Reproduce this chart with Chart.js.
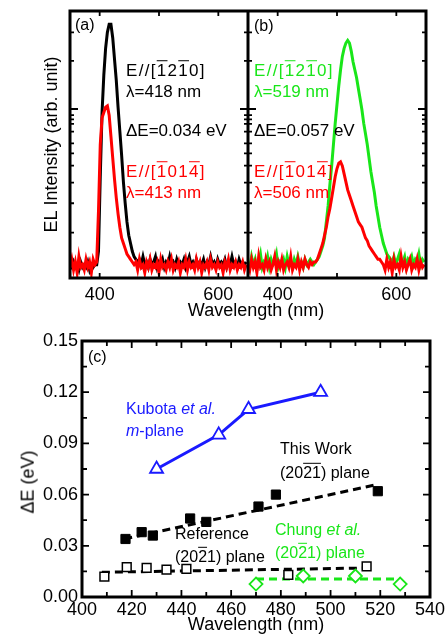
<!DOCTYPE html>
<html lang="en">
<head>
<meta charset="UTF-8">
<title>EL spectra and energy splitting</title>
<script src="https://cdn.jsdelivr.net/npm/chart.js@4.4.1/dist/chart.umd.min.js"></script>
<style>
  body { margin: 0; background: #fff; }
  #wrap { position: relative; width: 448px; height: 641px; font-family: 'Liberation Sans', Arial, sans-serif; color: #000; }
  canvas { position: absolute; }
  .lbl { position: absolute; white-space: nowrap; transform: translateY(-50%); line-height: 1.15; }
  .sp { font-size: 17px; }
  .sp.dir { letter-spacing: 1.3px; }
  .cl { font-size: 16px; }
  .ob { text-decoration: overline; }
  .red { color: #ff0000; }
  .green { color: #19e619; }
  .blue { color: #1a1aff; }
  .axt { position: absolute; white-space: nowrap; font-size: 18px; line-height: 1.15; }
</style>
</head>
<body>
<div id="wrap">
  <canvas id="chartA" width="248" height="310" style="left:0;top:0"></canvas>
  <canvas id="chartB" width="200" height="310" style="left:248px;top:0"></canvas>
  <canvas id="chartC" width="448" height="321" style="left:0;top:320px"></canvas>

  <!-- panel (a) -->
  <div class="lbl cl" style="left:75px;top:25px">(a)</div>
  <div class="lbl sp dir" style="left:126px;top:71px">E//[<span class="ob">1</span>2<span class="ob">1</span>0]</div>
  <div class="lbl sp" style="left:126px;top:92px">λ=418 nm</div>
  <div class="lbl sp" style="left:126px;top:131px">ΔE=0.034 eV</div>
  <div class="lbl sp dir red" style="left:126px;top:172px">E//[<span class="ob">1</span>01<span class="ob">4</span>]</div>
  <div class="lbl sp red" style="left:126px;top:193px">λ=413 nm</div>

  <!-- panel (b) -->
  <div class="lbl cl" style="left:254px;top:26px">(b)</div>
  <div class="lbl sp dir green" style="left:254px;top:71px">E//[<span class="ob">1</span>2<span class="ob">1</span>0]</div>
  <div class="lbl sp green" style="left:254px;top:92px">λ=519 nm</div>
  <div class="lbl sp" style="left:254px;top:131px">ΔE=0.057 eV</div>
  <div class="lbl sp dir red" style="left:254px;top:172px">E//[<span class="ob">1</span>01<span class="ob">4</span>]</div>
  <div class="lbl sp red" style="left:254px;top:193px">λ=506 nm</div>

  <div class="axt" style="left:256px;top:310px;transform:translate(-50%,-50%)">Wavelength (nm)</div>

  <!-- panel (c) -->
  <div class="lbl cl" style="left:88px;top:357px">(c)</div>
  <div class="lbl cl blue" style="left:126px;top:409px">Kubota <i>et al.</i></div>
  <div class="lbl cl blue" style="left:126px;top:431px"><i>m</i>-plane</div>
  <div class="lbl cl" style="left:280px;top:449px">This Work</div>
  <div class="lbl cl" style="left:280px;top:473px">(20<span class="ob">2</span><span class="ob">1</span>) plane</div>
  <div class="lbl cl" style="left:175px;top:534px">Reference</div>
  <div class="lbl cl" style="left:175px;top:557px">(20<span class="ob">2</span>1) plane</div>
  <div class="lbl cl green" style="left:275px;top:530px">Chung <i>et al.</i></div>
  <div class="lbl cl green" style="left:275px;top:553px">(20<span class="ob">2</span>1) plane</div>

  <div class="axt" style="left:28px;top:482px;transform:translate(-50%,-50%) rotate(-90deg)">ΔE (eV)</div>
</div>

<script>
const FONT = "'Liberation Sans', Arial, sans-serif";

// EL spectra (a) and (b), wavelength in nm, intensity in arb. unit
const wavelength = [350,353,356,359,362,365,368,371,374,377,380,383,386,389,392,395,398,401,404,407,
  410,413,416,419,422,425,428,431,434,437,440,443,446,449,452,455,458,461,464,467,
  470,473,476,479,482,485,488,491,494,497,500,503,506,509,512,515,518,521,524,527,
  530,533,536,539,542,545,548,551,554,557,560,563,566,569,572,575,578,581,584,587,
  590,593,596,599,602,605,608,611,614,617,620,623,626,629,632,635,638,641,644,647];

// (a) E//[-12-10], black
const aPerp = [0.05,0.04,0.06,0.04,0.05,0.03,0.06,0.04,0.05,0.04,0.06,0.03,0.05,0.04,0.05,0.05,
  0.10,0.38,0.62,0.76,0.86,0.92,0.95,0.95,0.90,0.82,0.74,0.64,0.55,0.46,0.36,0.28,0.21,0.16,0.13,0.10,0.08,0.07,0.06,
  0.07,0.05,0.08,0.05,0.06,0.04,0.07,0.05,0.06,0.08,
  0.04,0.06,0.05,0.07,0.04,0.06,0.05,0.08,0.05,0.06,
  0.04,0.07,0.05,0.06,0.05,0.07,0.04,0.06,0.08,0.05,
  0.06,0.04,0.07,0.05,0.06,0.05,0.07,0.04,0.06,0.05,
  0.08,0.05,0.06,0.04,0.07,0.05,0.06,0.05,0.07,0.04,
  0.06,0.05,0.08,0.05,0.06,0.04,0.07,0.05,0.06,0.05,
  0.06];
// (a) E//[-101-4], red
const aPara = [0.04,0.07,0.03,0.06,0.02,0.08,0.04,0.05,0.03,0.07,0.04,0.06,0.02,0.07,0.05,0.06,
  0.25,0.50,0.60,0.62,0.64,0.645,0.61,0.53,0.45,0.37,0.30,0.24,0.19,0.15,0.13,0.11,0.09,0.08,0.07,0.06,0.05,
  0.06,0.03,0.07,0.04,0.05,0.02,0.06,0.04,0.07,0.03,
  0.05,0.04,0.06,0.02,0.07,0.04,0.05,0.03,0.06,0.04,
  0.07,0.03,0.05,0.04,0.06,0.02,0.05,0.04,0.07,0.03,
  0.06,0.04,0.05,0.03,0.07,0.04,0.06,0.02,0.05,0.04,
  0.06,0.03,0.07,0.04,0.05,0.03,0.06,0.04,0.05,0.02,
  0.06,0.04,0.07,0.03,0.05,0.04,0.06,0.03,0.05,0.04,
  0.06,0.03,0.05];
// (b) E//[-12-10], green
const bPerp = [0.06,0.04,0.08,0.05,0.07,0.03,0.06,0.09,0.04,0.06,
  0.05,0.08,0.04,0.07,0.05,0.06,0.09,0.04,0.06,0.05,
  0.07,0.04,0.08,0.05,0.06,0.04,0.07,0.05,0.08,0.05,
  0.06,0.04,0.07,0.05,0.06,0.07,0.06,0.05,0.06,
  0.07,0.08,0.10,0.12,0.15,0.21,0.27,0.35,0.42,0.50,0.58,0.65,0.72,0.78,0.83,0.86,0.88,0.89,0.88,0.85,
  0.81,0.78,0.75,0.71,0.67,0.63,0.58,0.54,0.50,0.45,0.40,0.36,0.32,0.27,0.23,0.19,0.16,0.13,0.11,0.09,0.08,0.07,
  0.06,0.08,0.05,0.07,0.09,0.05,0.06,0.08,0.04,0.07,
  0.06,0.08,0.05,0.07,0.06,0.09,0.05,0.07,0.06];
// (b) E//[-101-4], red
const bPara = [0.05,0.03,0.07,0.04,0.06,0.02,0.08,0.04,0.05,0.03,
  0.07,0.04,0.06,0.03,0.05,0.08,0.03,0.06,0.04,0.07,
  0.03,0.05,0.06,0.04,0.08,0.03,0.05,0.04,0.07,0.03,
  0.06,0.04,0.07,0.05,0.04,0.06,0.05,0.06,
  0.06,0.07,0.09,0.11,0.13,0.16,0.19,0.23,0.26,0.30,0.34,0.38,0.41,0.43,0.435,0.42,0.39,0.36,0.33,
  0.31,0.29,0.27,0.25,0.23,0.21,0.20,0.19,0.17,0.15,0.14,0.12,0.11,0.10,0.09,0.08,0.07,0.07,0.06,
  0.05,0.03,0.07,0.04,0.06,0.02,0.07,0.04,0.05,0.03,
  0.08,0.04,0.06,0.03,0.05,0.07,0.03,0.05,0.04,0.07,
  0.03,0.06,0.04,0.05];

const topXLabels = [400, 600];
const topXTicks = [400, 500, 600];
const topYMajor = [0.633];
const topYMinor = [0.920, 0.813, 0.610, 0.594, 0.577, 0.548, 0.504, 0.467, 0.421, 0.357, 0.280, 0.170];

// (c) energy splitting vs wavelength
const cXLabels = [400, 420, 440, 460, 480, 500, 520, 540];
const cXMinor = [410, 430, 450, 470, 490, 510, 530];
const cYLabels = [0, 0.03, 0.06, 0.09, 0.12, 0.15];
const cYMinor = [0.015, 0.045, 0.075, 0.105, 0.135];

const kubotaWl = [430, 455, 467, 496];
const kubotaDE = [0.075, 0.095, 0.110, 0.120];
const workWl = [417.5, 424, 428.5, 443.5, 450, 471, 478, 519];
const workDE = [0.034, 0.038, 0.036, 0.046, 0.044, 0.053, 0.060, 0.062];
const workFitWl = [417, 519];
const workFitDE = [0.034, 0.066];
const refWl = [409, 418, 426, 434, 442, 483, 514.5];
const refDE = [0.012, 0.0175, 0.017, 0.016, 0.0165, 0.013, 0.018];
const refFitWl = [408, 515];
const refFitDE = [0.0145, 0.017];
const chungWl = [470, 489, 510, 528];
const chungDE = [0.0076, 0.0123, 0.0123, 0.0076];
const chungFitWl = [470, 528];
const chungFitDE = [0.0105, 0.0105];

const RED = '#ff0000', GREEN = '#19e619', BLUE = '#1a1aff';

function pts(xs, ys) { return xs.map((x, i) => ({x: x, y: ys[i]})); }

// box frame with inward ticks on all four sides
const framePlugin = {
  id: 'frame',
  afterDatasetsDraw(chart, args, o) {
    const {ctx, chartArea: a, scales} = chart;
    const sx = scales.x, sy = scales.y;
    ctx.save();
    ctx.strokeStyle = '#000';
    ctx.lineWidth = 1.8;
    ctx.beginPath();
    const vt = (list, len) => list.forEach(v => {
      const p = sx.getPixelForValue(v);
      ctx.moveTo(p, a.bottom); ctx.lineTo(p, a.bottom - len);
      ctx.moveTo(p, a.top); ctx.lineTo(p, a.top + len);
    });
    const ht = (list, len) => list.forEach(v => {
      const p = sy.getPixelForValue(v);
      ctx.moveTo(a.left, p); ctx.lineTo(a.left + len, p);
      ctx.moveTo(a.right, p); ctx.lineTo(a.right - len, p);
    });
    vt(o.xMajor || [], o.xMajorLen);
    vt(o.xMinor || [], o.xMinorLen);
    ht(o.yMajor || [], o.yMajorLen);
    ht(o.yMinor || [], o.yMinorLen);
    ctx.stroke();
    ctx.lineWidth = 3;
    ctx.strokeRect(a.left, a.top, a.right - a.left, a.bottom - a.top);
    ctx.restore();
  }
};

function spectrumChart(id, sets, yTitle, padRight) {
  return new Chart(document.getElementById(id), {
    type: 'scatter',
    data: {
      datasets: sets.map(s => ({
        data: pts(wavelength, s.values),
        showLine: true,
        borderColor: s.color,
        borderWidth: 3,
        pointRadius: 0,
        tension: 0
      }))
    },
    options: {
      responsive: false,
      animation: false,
      events: [],
      layout: {padding: {left: 0, top: 11, right: padRight, bottom: 0}},
      plugins: {
        legend: {display: false},
        tooltip: {enabled: false},
        frame: {xMajor: topXTicks, xMajorLen: 5, yMajor: topYMajor, yMajorLen: 8, yMinor: topYMinor, yMinorLen: 4}
      },
      scales: {
        x: {
          type: 'linear', min: 350, max: 650,
          grid: {display: false, drawTicks: false},
          border: {display: false},
          afterBuildTicks: s => { s.ticks = topXLabels.map(v => ({value: v})); },
          afterFit: s => { s.height = 32; },
          ticks: {font: {family: FONT, size: 18}, color: '#000', padding: 6, maxRotation: 0}
        },
        y: {
          display: !!yTitle,
          min: 0, max: 1,
          grid: {display: false, drawTicks: false},
          border: {display: false},
          ticks: {display: false},
          afterFit: s => { s.width = yTitle ? 70 : 0; },
          title: {display: !!yTitle, text: yTitle || '', font: {family: FONT, size: 18}, color: '#000', padding: {top: 41, bottom: 0}}
        }
      }
    },
    plugins: [framePlugin]
  });
}

spectrumChart('chartA', [
  {values: aPara, color: RED},
  {values: aPerp, color: '#000'}
], 'EL Intensity (arb. unit)', 0);

spectrumChart('chartB', [
  {values: bPara, color: RED},
  {values: bPerp, color: GREEN}
], null, 22);

new Chart(document.getElementById('chartC'), {
  type: 'scatter',
  data: {
    datasets: [
      {data: pts(kubotaWl, kubotaDE), showLine: true, borderColor: BLUE, borderWidth: 3,
       pointStyle: 'triangle', pointRadius: 7.5, pointBorderWidth: 1.8, pointBorderColor: BLUE, pointBackgroundColor: '#fff'},
      {data: pts(workWl, workDE), pointStyle: 'rect', pointRadius: 6.5, pointBorderWidth: 1, borderColor: '#000', backgroundColor: '#000'},
      {data: pts(refWl, refDE), pointStyle: 'rect', pointRadius: 6.2, pointBorderWidth: 1.5, borderColor: '#000', backgroundColor: '#fff'},
      {data: pts(chungWl, chungDE), pointStyle: 'rectRot', pointRadius: 6.5, pointBorderWidth: 1.8, borderColor: GREEN, backgroundColor: '#fff'},
      {data: pts(workFitWl, workFitDE), showLine: true, borderColor: '#000', borderWidth: 3, borderDash: [8, 5], pointRadius: 0},
      {data: pts(refFitWl, refFitDE), showLine: true, borderColor: '#000', borderWidth: 3, borderDash: [8, 5], pointRadius: 0},
      {data: pts(chungFitWl, chungFitDE), showLine: true, borderColor: GREEN, borderWidth: 3, borderDash: [8, 5], pointRadius: 0}
    ]
  },
  options: {
    responsive: false,
    animation: false,
    events: [],
    layout: {padding: {left: 0, top: 21, right: 18, bottom: 0}},
    plugins: {
      legend: {display: false},
      tooltip: {enabled: false},
      frame: {xMajor: cXLabels, xMajorLen: 7, xMinor: cXMinor, xMinorLen: 5,
              yMajor: cYLabels, yMajorLen: 7, yMinor: cYMinor, yMinorLen: 5}
    },
    scales: {
      x: {
        type: 'linear', min: 400, max: 540,
        grid: {display: false, drawTicks: false},
        border: {display: false},
        afterBuildTicks: s => { s.ticks = cXLabels.map(v => ({value: v})); },
        afterFit: s => { s.height = 44; },
        ticks: {font: {family: FONT, size: 18}, color: '#000', padding: 2, maxRotation: 0},
        title: {display: true, text: 'Wavelength (nm)', font: {family: FONT, size: 18}, color: '#000', padding: {top: 0, bottom: 5}}
      },
      y: {
        min: 0, max: 0.15,
        grid: {display: false, drawTicks: false},
        border: {display: false},
        afterBuildTicks: s => { s.ticks = cYLabels.map(v => ({value: v})); },
        afterFit: s => { s.width = 82; },
        ticks: {font: {family: FONT, size: 18}, color: '#000', padding: 4, callback: v => v.toFixed(2)}
      }
    }
  },
  plugins: [framePlugin]
});
</script>
</body>
</html>
